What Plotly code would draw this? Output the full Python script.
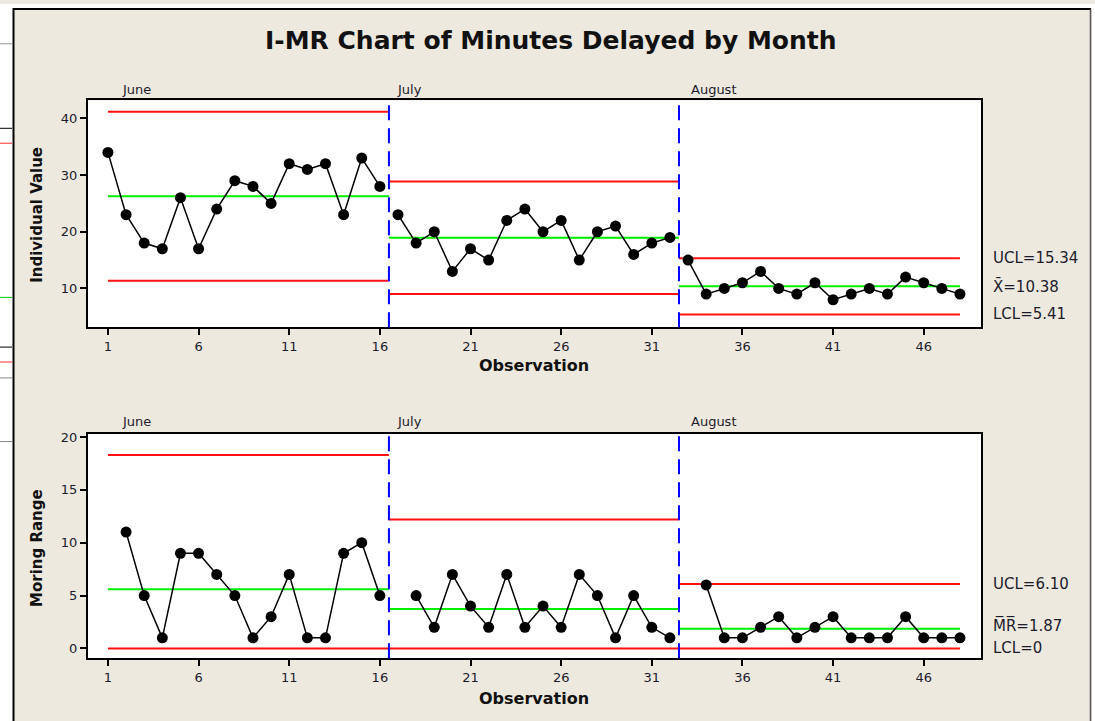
import plotly.graph_objects as go

# ---------------- data ----------------
months = ["June", "July", "August"]
june_values = [34, 23, 18, 17, 26, 17, 24, 29, 28, 25, 32, 31, 32, 23, 33, 28]
july_values = [23, 18, 20, 13, 17, 15, 22, 24, 20, 22, 15, 20, 21, 16, 18, 19]
august_values = [15, 9, 10, 11, 13, 10, 9, 11, 8, 9, 10, 9, 12, 11, 10, 9]
june_mr = [None, 11, 5, 1, 9, 9, 7, 5, 1, 3, 7, 1, 1, 9, 10, 5]
july_mr = [None, 5, 2, 7, 4, 2, 7, 2, 4, 2, 7, 5, 1, 5, 2, 1]
august_mr = [None, 6, 1, 1, 2, 3, 1, 2, 3, 1, 1, 1, 3, 1, 1, 1]
i_center = [26.25, 18.94, 10.38]
i_ucl = [41.15, 28.87, 15.34]
i_lcl = [11.35, 9.01, 5.41]
mr_center = [5.60, 3.73, 1.87]
mr_ucl = [18.30, 12.20, 6.10]
mr_lcl = [0, 0, 0]
x_ticks = [1, 6, 11, 16, 21, 26, 31, 36, 41, 46]
i_ticks = [10, 20, 30, 40]
mr_ticks = [0, 5, 10, 15, 20]
i_labels = ["UCL=15.34", "X\u0304=10.38", "LCL=5.41"]
mr_labels = ["UCL=6.10", "M\u0305R\u0305=1.87", "LCL=0"]

W, H = 1095, 721
BG = "#EDE9DF"
FONT = "DejaVu Sans"
TXT = "#1c1c2c"


def px(x):
    return x / W


def py(y):
    return 1 - y / H


stage_values = [june_values, july_values, august_values]
stage_mr = [june_mr, july_mr, august_mr]
stage_start_obs = []
n = 1
for v in stage_values:
    stage_start_obs.append(n)
    n += len(v)
last_obs = n - 1
bounds = [stage_start_obs[0]] + [s - 0.5 for s in stage_start_obs[1:]] + [last_obs]

fig = go.Figure()

for k in range(3):
    xs = list(range(stage_start_obs[k], stage_start_obs[k] + len(stage_values[k])))
    x0, x1 = bounds[k], bounds[k + 1]
    for (lims, ya, xa) in [((i_ucl, i_center, i_lcl), "y", "x"), ((mr_ucl, mr_center, mr_lcl), "y2", "x2")]:
        for lim, col in zip(lims, ["#FF1010", "#00EE00", "#FF1010"]):
            fig.add_trace(go.Scatter(x=[x0, x1], y=[lim[k], lim[k]], mode="lines",
                                     line=dict(color=col, width=2), xaxis=xa, yaxis=ya,
                                     hoverinfo="skip", showlegend=False))
    fig.add_trace(go.Scatter(x=xs, y=stage_values[k], mode="lines+markers",
                             line=dict(color="black", width=1.5),
                             marker=dict(color="black", size=11),
                             xaxis="x", yaxis="y", showlegend=False))
    fig.add_trace(go.Scatter(x=xs, y=stage_mr[k], mode="lines+markers",
                             line=dict(color="black", width=1.5),
                             marker=dict(color="black", size=11),
                             xaxis="x2", yaxis="y2", showlegend=False, connectgaps=False))

shapes = []
# window decoration
shapes.append(dict(type="rect", xref="paper", yref="paper", x0=0, x1=px(13), y0=0, y1=1,
                   fillcolor="white", line=dict(width=0), layer="below"))
for yy, col in [(40, "#999999"), (125, "black"), (140, "#FF3030"), (295, "#00CC00"),
                (345, "black"), (360, "#FF3030"), (376, "#888888"), (440, "#888888")]:
    shapes.append(dict(type="line", xref="paper", yref="paper", x0=0, x1=px(12), y0=py(yy), y1=py(yy),
                       line=dict(color=col, width=1)))
shapes.append(dict(type="line", xref="paper", yref="paper", x0=px(13.5), x1=px(13.5), y0=0, y1=py(4),
                   line=dict(color="black", width=2)))
shapes.append(dict(type="line", xref="paper", yref="paper", x0=px(13), x1=px(1091), y0=py(5), y1=py(5),
                   line=dict(color="black", width=2)))
shapes.append(dict(type="line", xref="paper", yref="paper", x0=px(1090.5), x1=px(1090.5), y0=0, y1=py(5),
                   line=dict(color="#555555", width=1.5)))
shapes.append(dict(type="rect", xref="paper", yref="paper", x0=px(1092), x1=1, y0=0, y1=1,
                   fillcolor="white", line=dict(width=0)))
shapes.append(dict(type="rect", xref="paper", yref="paper", x0=0, x1=1, y0=py(4), y1=1,
                   fillcolor="#ffffff", line=dict(width=0)))

# stage dividers
for s in stage_start_obs[1:]:
    for xr, yr in [("x", "y domain"), ("x2", "y2 domain")]:
        shapes.append(dict(type="line", xref=xr, yref=yr, x0=s - 0.5, x1=s - 0.5, y0=0, y1=1,
                           line=dict(color="#0000FF", width=2, dash="15px,8px")))

annotations = []
annotations.append(dict(text="<b>I-MR Chart of Minutes Delayed by Month</b>", xref="paper", yref="paper",
                        x=px(551), y=py(37), showarrow=False, xanchor="center", yanchor="middle",
                        font=dict(family=FONT, size=25, color="#111111")))
for ytop in [86, 420]:
    for m, xp in zip(months, [120, 395, 689]):
        annotations.append(dict(text=m, xref="paper", yref="paper", x=px(xp), y=py(ytop),
                                showarrow=False, xanchor="left", yanchor="middle",
                                font=dict(family=FONT, size=13, color=TXT)))
for yc in [364, 698]:
    annotations.append(dict(text="<b>Observation</b>", xref="paper", yref="paper", x=px(534), y=py(yc),
                            showarrow=False, xanchor="center", yanchor="middle",
                            font=dict(family=FONT, size=16, color="#111111")))
for txt, yc in [("Individual Value", 212), ("Moring Range", 547)]:
    annotations.append(dict(text="<b>" + txt + "</b>", xref="paper", yref="paper", x=px(37), y=py(yc),
                            showarrow=False, textangle=-90, xanchor="center", yanchor="middle",
                            font=dict(family=FONT, size=15, color="#111111")))
for lab, val in zip(i_labels, [i_ucl[2], i_center[2], i_lcl[2]]):
    annotations.append(dict(text=lab, xref="paper", yref="y", x=px(991), y=val, showarrow=False,
                            xanchor="left", yanchor="middle", font=dict(family=FONT, size=15, color=TXT)))
for lab, val in zip(mr_labels, [mr_ucl[2], mr_center[2] + 0.3, mr_lcl[2]]):
    annotations.append(dict(text=lab, xref="paper", yref="y2", x=px(991), y=val, showarrow=False,
                            xanchor="left", yanchor="middle", font=dict(family=FONT, size=15, color=TXT)))

xdom = [px(88), px(981)]
common_x = dict(domain=xdom, range=[-0.10, 49.16], tickmode="array", tickvals=x_ticks,
                ticks="outside", ticklen=6, tickwidth=1.5, tickcolor="black",
                showline=True, linecolor="black", linewidth=2, mirror=True,
                showgrid=False, zeroline=False, tickfont=dict(family=FONT, size=13, color=TXT))
common_y = dict(ticks="outside", ticklen=6, tickwidth=1.5, tickcolor="black",
                showline=True, linecolor="black", linewidth=2, mirror=True,
                showgrid=False, zeroline=False, tickfont=dict(family=FONT, size=13, color=TXT))

fig.update_layout(
    width=W, height=H,
    margin=dict(l=0, r=0, t=0, b=0),
    paper_bgcolor=BG, plot_bgcolor="white",
    showlegend=False,
    xaxis=dict(anchor="y", **common_x),
    yaxis=dict(anchor="x", domain=[py(325), py(97)], range=[3.16, 43.16],
               tickvals=i_ticks, **common_y),
    xaxis2=dict(anchor="y2", **common_x),
    yaxis2=dict(anchor="x2", domain=[py(658), py(432)], range=[-0.94, 20.32],
                tickvals=mr_ticks, **common_y),
    shapes=shapes,
    annotations=annotations,
)

fig.write_html("out.html", config={"displayModeBar": False},
               post_script="document.body.style.margin='0';document.body.style.padding='0';")
